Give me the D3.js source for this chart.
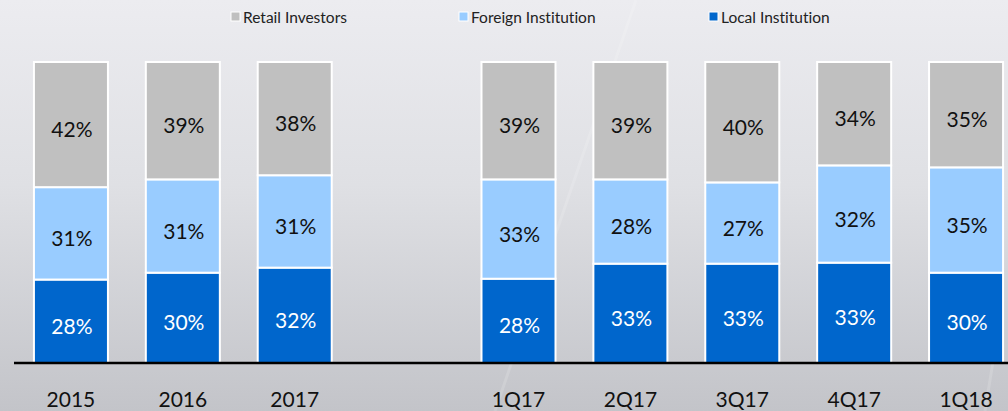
<!DOCTYPE html>
<html>
<head>
<meta charset="utf-8">
<script src="https://cdn.jsdelivr.net/npm/d3@7"></script>
<style>
  html, body { margin: 0; padding: 0; background: #dcdde2; }
  svg { display: block; }
  text { font-variant-ligatures: none; font-feature-settings: "liga" 0; }
</style>
</head>
<body>
<svg id="chart" width="1008" height="411"></svg>
<script>
// ---- data ----
const categories = ["2015", "2016", "2017", "1Q17", "2Q17", "3Q17", "4Q17", "1Q18"];
const slots = ["2015", "2016", "2017", "", "1Q17", "2Q17", "3Q17", "4Q17", "1Q18"]; // "" = spacer
const seriesNames = ["Local Institution", "Foreign Institution", "Retail Investors"];
const localInstitution   = [28, 30, 32, 28, 33, 33, 33, 30];
const foreignInstitution = [31, 31, 31, 33, 28, 27, 32, 35];
const retailInvestors    = [42, 39, 38, 39, 39, 40, 34, 35];
const legendOrder = ["Retail Investors", "Foreign Institution", "Local Institution"];
const colors = {
  "Local Institution": "#0066cc",
  "Foreign Institution": "#99ccff",
  "Retail Investors": "#c0c0c0"
};

const W = 1008, H = 411;
const svg = d3.select("#chart");

// background
const defs = svg.append("defs");
const bg = defs.append("linearGradient").attr("id", "bg").attr("x1", 0).attr("y1", 0).attr("x2", 0).attr("y2", 1);
bg.append("stop").attr("offset", "0%").attr("stop-color", "#ececf0");
bg.append("stop").attr("offset", "45%").attr("stop-color", "#dfe0e4");
bg.append("stop").attr("offset", "100%").attr("stop-color", "#c3c4c9");
svg.append("rect").attr("width", W).attr("height", H).attr("fill", "url(#bg)");
svg.append("line").attr("x1", 636).attr("y1", 0).attr("x2", 495).attr("y2", H)
  .attr("stroke", "#ffffff").attr("stroke-opacity", 0.15).attr("stroke-width", 3);
svg.append("line").attr("x1", 1003).attr("y1", 300).attr("x2", 985).attr("y2", H)
  .attr("stroke", "#ffffff").attr("stroke-opacity", 0.15).attr("stroke-width", 3);

// table
const table = categories.map((c, i) => ({
  cat: c,
  "Local Institution": localInstitution[i],
  "Foreign Institution": foreignInstitution[i],
  "Retail Investors": retailInvestors[i]
}));

const stack = d3.stack().keys(seriesNames).offset(d3.stackOffsetExpand);
const stacked = stack(table);

const x = d3.scaleBand().domain(slots).range([15, 1022])
  .paddingInner(0.3385).paddingOuter(0.3385 / 2);
const y = d3.scaleLinear().domain([0, 1]).range([363, 62]);

const font = "Lato, 'Open Sans', sans-serif";

const groups = svg.append("g").selectAll("g").data(stacked).join("g")
  .attr("fill", d => colors[d.key]);

groups.selectAll("rect").data(d => d).join("rect")
  .attr("x", d => x(d.data.cat))
  .attr("width", x.bandwidth())
  .attr("y", d => y(d[1]))
  .attr("height", d => y(d[0]) - y(d[1]))
  .attr("stroke", "#ffffff")
  .attr("stroke-width", 2);

// labels
stacked.forEach(s => {
  svg.append("g").selectAll("text").data(s).join("text")
    .attr("x", d => x(d.data.cat) + x.bandwidth() / 2 + 1)
    .attr("y", d => (y(d[0]) + y(d[1])) / 2 + 4)
    .attr("text-anchor", "middle")
    .attr("dominant-baseline", "central")
    .attr("font-family", font)
    .attr("font-size", 21)
    .attr("fill", s.key === "Local Institution" ? "#ffffff" : "#111111")
    .text(d => d.data[s.key] + "%");
});

// x axis
const axis = d3.axisBottom(x).tickSize(0).tickSizeOuter(0)
  .tickValues(slots.filter(s => s !== ""));
const ax = svg.append("g").attr("transform", "translate(0,363)").call(axis);
ax.select(".domain").attr("stroke", "#000").attr("stroke-width", 2.5).attr("d", "M14,0H1008");
ax.selectAll("text").attr("font-family", font)
  .attr("font-size", 21).attr("fill", "#111").attr("y", 44).attr("dy", 0);

// legend
const legendX = [231, 459, 709];
const lg = svg.append("g").selectAll("g").data(legendOrder).join("g")
  .attr("transform", (d, i) => `translate(${legendX[i]},12)`);
lg.append("rect").attr("width", 9).attr("height", 9).attr("fill", d => colors[d])
  .attr("stroke", "#ffffff").attr("stroke-width", 1);
lg.append("text").attr("x", 12).attr("y", 5).attr("dominant-baseline", "central")
  .attr("font-family", font).attr("font-size", 15.5).attr("fill", "#222")
  .text(d => d);
</script>
</body>
</html>
